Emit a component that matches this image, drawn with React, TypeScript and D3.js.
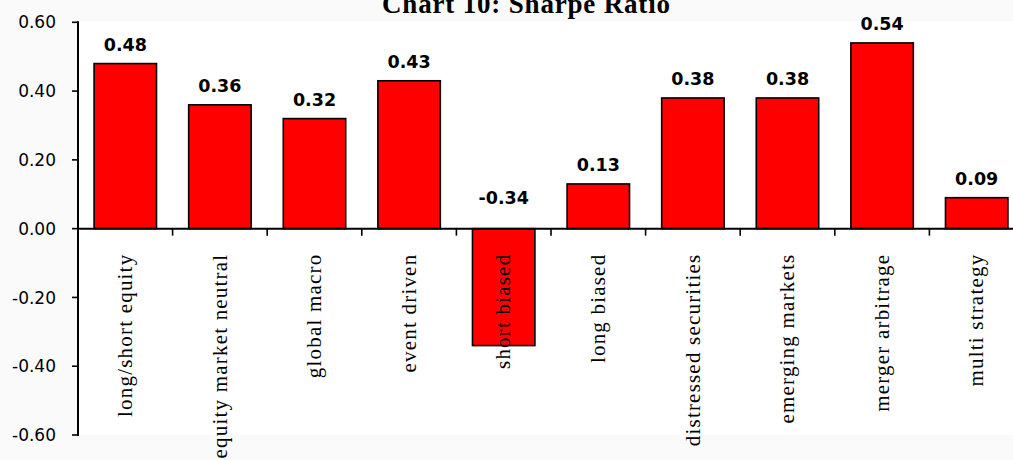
import React from "react";
import * as d3 from "d3";

const categories = [
  "long/short equity",
  "equity market neutral",
  "global macro",
  "event driven",
  "short biased",
  "long biased",
  "distressed securities",
  "emerging markets",
  "merger arbitrage",
  "multi strategy",
];
const values = [0.48, 0.36, 0.32, 0.43, -0.34, 0.13, 0.38, 0.38, 0.54, 0.09];
const yTicks = [-0.6, -0.4, -0.2, 0, 0.2, 0.4, 0.6];
const title = "Chart 10: Sharpe Ratio";

const W = 1013;
const H = 460;
const left = 78;
const top = 22.3;
const bottom = 435;
const right = 1024;

const fmt = (v: number) => v.toFixed(2);

export default function App() {
  const x = d3
    .scaleBand<string>()
    .domain(categories)
    .range([left, right])
    .paddingInner(0.34)
    .paddingOuter(0.17);
  const y = d3.scaleLinear().domain([-0.6, 0.6]).range([bottom, top]);
  const step = x.step();
  const bandStart = (i: number) => left + i * step;
  const y0 = y(0);

  return (
    <svg
      width={W}
      height={H}
      style={{ position: "absolute", left: 0, top: 0, display: "block" }}
    >
      <rect x={0} y={0} width={W} height={H} fill="#fafafa" />
      <rect x={left} y={top - 1} width={W - left} height={bottom - top + 1} fill="#ffffff" />
      <text
        x={526}
        y={13}
        textAnchor="middle"
        fontFamily="'Liberation Serif', 'Times New Roman', serif"
        fontWeight="bold"
        fontSize={27}
        textLength={288}
        lengthAdjust="spacing"
        fill="#000"
      >
        {title}
      </text>
      {categories.map((c, i) => {
        const v = values[i];
        const bx = x(c)!;
        const yt = y(Math.max(0, v));
        const yb = y(Math.min(0, v));
        return (
          <rect
            key={c}
            x={bx}
            y={yt}
            width={x.bandwidth()}
            height={yb - yt}
            fill="#ff0000"
            stroke="#000"
            strokeWidth={1.6}
          />
        );
      })}
      {/* y axis */}
      <line x1={left} x2={left} y1={top - 1} y2={bottom + 1} stroke="#000" strokeWidth={2} />
      {yTicks.map((t) => (
        <g key={t}>
          <line x1={left - 6} x2={left} y1={y(t)} y2={y(t)} stroke="#000" strokeWidth={1.6} />
          <text
            x={56}
            y={y(t)}
            dy="0.36em"
            textAnchor="end"
            fontFamily="'DejaVu Sans', Verdana, sans-serif"
            fontSize={17}
            fill="#000"
          >
            {fmt(t)}
          </text>
        </g>
      ))}
      {/* x axis at zero */}
      <line x1={left} x2={W} y1={y0} y2={y0} stroke="#000" strokeWidth={2} />
      {categories.slice(1).map((c, i) => (
        <line
          key={c}
          x1={bandStart(i + 1)}
          x2={bandStart(i + 1)}
          y1={y0}
          y2={y0 + 7}
          stroke="#000"
          strokeWidth={1.6}
        />
      ))}
      {/* value labels */}
      {categories.map((c, i) => {
        const v = values[i];
        const cx = x(c)! + x.bandwidth() / 2;
        const ly = v >= 0 ? y(v) - 13 : y0 - 25;
        return (
          <text
            key={c}
            x={cx}
            y={ly}
            textAnchor="middle"
            fontFamily="'DejaVu Sans', Verdana, sans-serif"
            fontWeight="bold"
            fontSize={17.5}
            fill="#000"
          >
            {fmt(v)}
          </text>
        );
      })}
      {/* category labels */}
      {categories.map((c) => {
        const cx = x(c)! + x.bandwidth() / 2 + 6.7;
        const ty = y0 + 25;
        return (
          <text
            key={c}
            transform={`translate(${cx},${ty}) rotate(-90)`}
            textAnchor="end"
            fontFamily="'Liberation Serif', 'Times New Roman', serif"
            fontSize={21}
            letterSpacing={1.2}
            fill="#000"
          >
            {c}
          </text>
        );
      })}
    </svg>
  );
}
